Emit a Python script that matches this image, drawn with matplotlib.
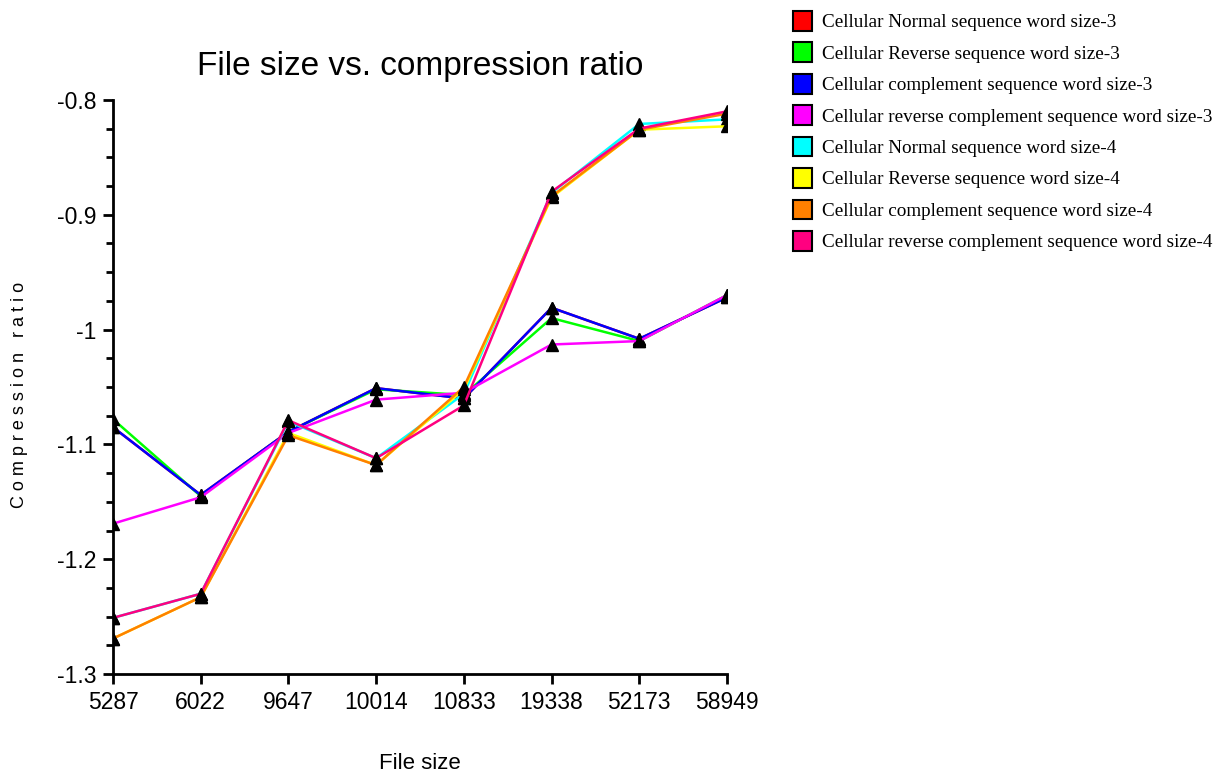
import matplotlib
matplotlib.use('Agg')
import matplotlib.pyplot as plt
from matplotlib.patches import Patch
from matplotlib.ticker import MultipleLocator

# Dữ liệu
file_sizes = ['5287', '6022', '9647', '10014', '10833', '19338', '52173', '58949']

normal3 = [-1.085, -1.144, -1.089, -1.051, -1.060, -0.981, -1.008, -0.972]
reverse3 = [-1.078, -1.145, -1.089, -1.052, -1.057, -0.990, -1.010, -0.970]
comp3 = [-1.085, -1.144, -1.089, -1.051, -1.060, -0.981, -1.008, -0.972]
revcomp3 = [-1.169, -1.146, -1.090, -1.061, -1.055, -1.013, -1.010, -0.970]
normal4 = [-1.251, -1.230, -1.080, -1.112, -1.056, -0.881, -0.821, -0.817]
reverse4 = [-1.269, -1.233, -1.090, -1.118, -1.052, -0.885, -0.826, -0.823]
comp4 = [-1.269, -1.233, -1.092, -1.118, -1.050, -0.884, -0.826, -0.812]
revcomp4 = [-1.251, -1.230, -1.079, -1.112, -1.066, -0.880, -0.825, -0.810]

series = [
    ('Cellular Normal sequence word size-3', normal3, '#ff0000'),
    ('Cellular Reverse sequence word size-3', reverse3, '#00ff00'),
    ('Cellular complement sequence word size-3', comp3, '#0000ff'),
    ('Cellular reverse complement sequence word size-3', revcomp3, '#ff00ff'),
    ('Cellular Normal sequence word size-4', normal4, '#00ffff'),
    ('Cellular Reverse sequence word size-4', reverse4, '#ffff00'),
    ('Cellular complement sequence word size-4', comp4, '#ff8000'),
    ('Cellular reverse complement sequence word size-4', revcomp4, '#ff0080'),
]

sans = ['Liberation Sans', 'DejaVu Sans']

fig = plt.figure(figsize=(12.2, 7.74), dpi=100)
ax = fig.add_axes([0.0926, 0.129, 0.5033, 0.742])

x = list(range(len(file_sizes)))
for name, vals, color in series:
    ax.plot(x, vals, color=color, linewidth=1.8, marker='^', markersize=8,
            markerfacecolor='black', markeredgecolor='black')

ax.set_xlim(0, len(file_sizes) - 1)
ax.set_ylim(-1.3, -0.8)
ax.set_xticks(x)
ax.set_xticklabels(file_sizes)
ax.yaxis.set_minor_locator(MultipleLocator(0.025))
ax.set_yticks([-1.3, -1.2, -1.1, -1.0, -0.9, -0.8])
ax.set_yticklabels(['-1.3', '-1.2', '-1.1', '-1', '-0.9', '-0.8'])

for s in ['top', 'right']:
    ax.spines[s].set_visible(False)
for s in ['left', 'bottom']:
    ax.spines[s].set_linewidth(2)
ax.tick_params(axis='both', which='major', direction='out', length=7, width=2, pad=5)
ax.tick_params(axis='y', which='minor', direction='out', length=5, width=2)
for lab in ax.get_xticklabels() + ax.get_yticklabels():
    lab.set_family(sans)
    lab.set_fontsize(16.5)

fig.text(0.344, 0.0142, 'File size', fontsize=16, family=sans, ha='center', va='center')
fig.text(0.016, 0.49, 'C o m p r e s s i o n   r a t i o', fontsize=13, family=sans,
         rotation=90, ha='center', va='center')
ax.set_title('File size vs. compression ratio', fontsize=24, family=sans, pad=18)

handles = [Patch(facecolor=c, edgecolor='black', linewidth=1.5, label=n) for n, _, c in series]
fig.legend(handles=handles, loc='upper left', bbox_to_anchor=(0.636, 1.008),
           frameon=False, prop={'family': 'Liberation Serif', 'size': 13.8},
           handlelength=1.0, handleheight=1.2, handletextpad=0.5, labelspacing=0.58)

plt.savefig('out.png', dpi=100)
plt.close()
